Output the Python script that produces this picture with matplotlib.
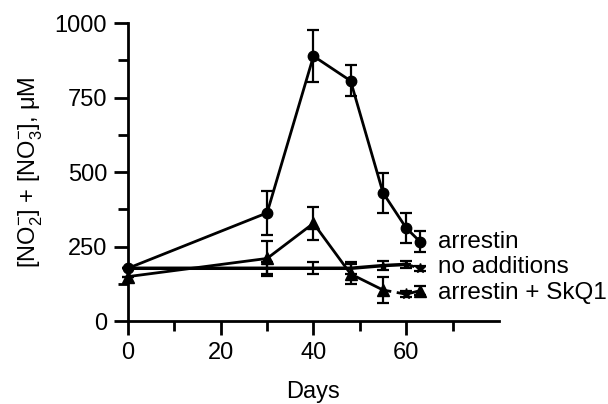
import numpy as np
import matplotlib
matplotlib.use("Agg")
import matplotlib.pyplot as plt
from matplotlib.ticker import FixedLocator, MultipleLocator

plt.rcParams['font.family'] = ['Liberation Sans', 'DejaVu Sans']
plt.rcParams['mathtext.fontset'] = 'custom'
plt.rcParams['mathtext.rm'] = 'Liberation Sans'

# arrestin (circles)
arr_days = [0, 30, 40, 48, 55, 60, 63]
arr_val = [177, 363, 889, 806, 430, 312, 266]
arr_err = [0, 73, 87, 52, 67, 50, 35]

# no additions (small stars)
noadd_days = [0, 30, 40, 48, 55, 60, 63]
noadd_val = [177, 177, 177, 177, 186, 190, 177]
noadd_err = [0, 20, 20, 20, 15, 12, 8]

# arrestin + SkQ1 (triangles)
skq_days = [0, 30, 40, 48, 55, 60, 63]
skq_val = [149, 210, 328, 158, 104, 90, 102]
skq_err = [0, 58, 55, 35, 45, 10, 15]

labels = ['arrestin', 'no additions', 'arrestin + SkQ1']
label_y = [265, 180, 95]

fig = plt.figure(figsize=(6.08, 4.04), dpi=100)
ax = fig.add_axes([0.2105, 0.2054, 0.6102, 0.7376])

ekw = dict(color='black', ecolor='black', elinewidth=1.6, capsize=4, capthick=1.6)

# solid parts
ax.errorbar(arr_days, arr_val, yerr=arr_err, fmt='-o', lw=2, ms=7.5, **ekw)
ax.errorbar(noadd_days[:6], noadd_val[:6], yerr=noadd_err[:6], fmt='-', lw=2.5, **ekw)
ax.plot(noadd_days[4:6], noadd_val[4:6], '*', color='black', ms=6)
# dashed tails
ax.plot(noadd_days[5:], noadd_val[5:], '--', color='black', lw=2, dashes=(3, 2))
ax.errorbar(noadd_days[6:], noadd_val[6:], yerr=noadd_err[6:], fmt='*', ms=7, **ekw)
ax.errorbar(skq_days[:5], skq_val[:5], yerr=skq_err[:5], fmt='-^', lw=2, ms=8, **ekw)
ax.plot(skq_days[4:], skq_val[4:], '--', color='black', lw=2, dashes=(3, 2))
ax.errorbar(skq_days[5:6], skq_val[5:6], yerr=skq_err[5:6], fmt='*', ms=8, **ekw)
ax.errorbar(skq_days[6:], skq_val[6:], yerr=skq_err[6:], fmt='^', ms=8, **ekw)

for lab, ly in zip(labels, label_y):
    ax.text(66.8, ly, lab, fontsize=17.5, va='center', ha='left')

ax.set_xlim(0, 80)
ax.set_ylim(0, 1000)
ax.xaxis.set_major_locator(FixedLocator([0, 20, 40, 60]))
ax.xaxis.set_minor_locator(FixedLocator([10, 30, 50, 70]))
ax.yaxis.set_major_locator(MultipleLocator(250))
ax.yaxis.set_minor_locator(MultipleLocator(125))

for s in ['top', 'right']:
    ax.spines[s].set_visible(False)
for s in ['left', 'bottom']:
    ax.spines[s].set_linewidth(2)
ax.tick_params(which='major', length=10, width=2, labelsize=17, pad=5)
ax.tick_params(which='minor', length=7, width=2)

ax.set_xlabel('Days', fontsize=17, labelpad=12)
ax.set_ylabel(r'[NO$_2^{-}$] + [NO$_3^{-}$], μM', fontsize=17, labelpad=8)

for line in ax.get_lines():
    line.set_clip_on(False)

fig.savefig('out.png', dpi=100)
